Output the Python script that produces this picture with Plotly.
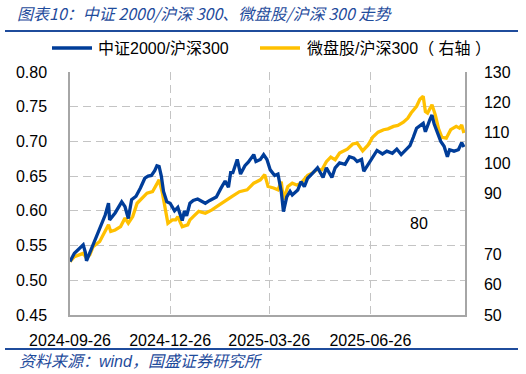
import plotly.graph_objects as go

# ---------------- data ----------------
blue_name = "中证2000/沪深300"
yellow_name = "微盘股/沪深300（ 右轴 ）"

blue_dates = [
    "2024-09-26", "2024-09-30", "2024-10-08", "2024-10-10", "2024-10-11", "2024-10-15", "2024-10-18",
    "2024-10-21", "2024-10-24", "2024-10-28", "2024-10-31", "2024-11-01", "2024-11-06", "2024-11-08",
    "2024-11-12", "2024-11-15", "2024-11-18", "2024-11-21", "2024-11-25", "2024-11-29", "2024-12-03",
    "2024-12-06", "2024-12-09", "2024-12-12", "2024-12-14", "2024-12-16", "2024-12-18", "2024-12-20",
    "2024-12-23", "2024-12-26", "2024-12-30", "2025-01-02", "2025-01-06", "2025-01-08", "2025-01-10",
    "2025-01-13", "2025-01-16", "2025-01-20", "2025-01-22", "2025-01-27", "2025-01-31", "2025-02-06",
    "2025-02-10", "2025-02-14", "2025-02-17", "2025-02-19", "2025-02-21", "2025-02-25", "2025-02-28",
    "2025-03-04", "2025-03-07", "2025-03-12", "2025-03-14", "2025-03-18", "2025-03-21", "2025-03-24",
    "2025-03-27", "2025-03-31", "2025-04-03", "2025-04-06", "2025-04-08", "2025-04-11", "2025-04-14",
    "2025-04-16", "2025-04-21", "2025-04-24", "2025-04-27", "2025-04-30", "2025-05-05", "2025-05-09",
    "2025-05-14", "2025-05-17", "2025-05-22", "2025-05-25", "2025-05-29", "2025-06-03", "2025-06-07",
    "2025-06-11", "2025-06-14", "2025-06-18", "2025-06-20", "2025-06-24", "2025-06-28", "2025-07-02",
    "2025-07-07", "2025-07-11", "2025-07-16", "2025-07-20", "2025-07-24", "2025-07-29", "2025-08-01",
    "2025-08-04", "2025-08-07", "2025-08-13", "2025-08-15", "2025-08-19", "2025-08-21", "2025-08-23",
    "2025-08-26", "2025-08-29", "2025-09-01", "2025-09-04", "2025-09-06", "2025-09-10", "2025-09-14",
    "2025-09-17", "2025-09-19",
]
blue_vals = [
    0.527, 0.539, 0.551, 0.540, 0.528, 0.544, 0.553,
    0.565, 0.580, 0.594, 0.611, 0.587, 0.597, 0.603,
    0.613, 0.606, 0.589, 0.616, 0.621, 0.633, 0.647,
    0.650, 0.651, 0.658, 0.665, 0.664, 0.650, 0.628,
    0.613, 0.611, 0.600, 0.605, 0.586, 0.600, 0.593,
    0.611, 0.615, 0.617, 0.615, 0.611, 0.615, 0.620,
    0.632, 0.643, 0.634, 0.655, 0.655, 0.674, 0.653,
    0.665, 0.670, 0.681, 0.671, 0.674, 0.681, 0.674,
    0.659, 0.651, 0.653, 0.628, 0.599, 0.620, 0.628,
    0.623, 0.630, 0.642, 0.635, 0.647, 0.655, 0.662,
    0.648, 0.662, 0.648, 0.662, 0.669, 0.667, 0.678,
    0.676, 0.671, 0.674, 0.657, 0.667, 0.678, 0.687,
    0.682, 0.686, 0.683, 0.689, 0.681, 0.690, 0.694,
    0.706, 0.719, 0.726, 0.714, 0.731, 0.738, 0.725,
    0.712, 0.700, 0.693, 0.678, 0.688, 0.686, 0.688,
    0.698, 0.692,
]

yellow_dates = [
    "2024-09-26", "2024-09-30", "2024-10-08", "2024-10-11", "2024-10-14", "2024-10-17", "2024-10-23",
    "2024-10-28", "2024-10-31", "2024-11-02", "2024-11-06", "2024-11-11", "2024-11-15", "2024-11-18",
    "2024-11-22", "2024-11-26", "2024-12-01", "2024-12-05", "2024-12-10", "2024-12-14", "2024-12-16",
    "2024-12-19", "2024-12-21", "2024-12-24", "2024-12-28", "2024-12-31", "2025-01-02", "2025-01-06",
    "2025-01-11", "2025-01-13", "2025-01-16", "2025-01-21", "2025-01-27", "2025-02-02", "2025-02-09",
    "2025-02-15", "2025-02-20", "2025-02-27", "2025-03-06", "2025-03-12", "2025-03-18", "2025-03-22",
    "2025-03-25", "2025-03-30", "2025-04-03", "2025-04-06", "2025-04-08", "2025-04-12", "2025-04-16",
    "2025-04-20", "2025-04-24", "2025-04-30", "2025-05-04", "2025-05-09", "2025-05-13", "2025-05-17",
    "2025-05-21", "2025-05-25", "2025-05-29", "2025-06-05", "2025-06-10", "2025-06-14", "2025-06-19",
    "2025-06-24", "2025-06-28", "2025-07-03", "2025-07-08", "2025-07-12", "2025-07-17", "2025-07-21",
    "2025-07-26", "2025-07-30", "2025-08-02", "2025-08-07", "2025-08-10", "2025-08-13", "2025-08-15",
    "2025-08-17", "2025-08-21", "2025-08-24", "2025-08-27", "2025-08-30", "2025-09-03", "2025-09-07",
    "2025-09-12", "2025-09-15", "2025-09-17", "2025-09-19",
]
yellow_vals = [
    67.6, 69.2, 70.3, 68.7, 69.8, 72.5, 74.2,
    78.0, 79.7, 77.5, 78.0, 79.1, 81.9, 80.2,
    82.4, 86.8, 88.5, 90.1, 90.6, 93.4, 94.5,
    90.1, 86.3, 80.2, 81.3, 81.3, 82.4, 79.1,
    79.7, 81.3, 82.4, 84.1, 83.5, 84.6, 86.3,
    87.9, 89.0, 90.6, 91.2, 93.4, 94.5, 96.2,
    92.3, 91.8, 91.2, 93.9, 88.0, 92.3, 93.4,
    92.8, 93.4, 96.0, 96.7, 98.0, 97.8, 100.5,
    102.0, 101.1, 103.3, 104.6, 106.3, 106.6, 104.0,
    106.0, 108.5, 110.2, 111.0, 111.3, 112.1, 112.4,
    113.5, 114.8, 116.5, 118.7, 121.0, 122.0, 117.0,
    116.5, 119.2, 115.9, 111.3, 108.5, 108.2, 111.0,
    112.1, 111.5, 112.6, 109.9,
]

x_tick_vals = ["2024-09-26", "2024-12-26", "2025-03-26", "2025-06-26"]
x_tick_text = ["2024-09-26", "2024-12-26", "2025-03-26", "2025-06-26"]
x_range = ["2024-09-26", "2025-09-20"]
left_ticks = [0.45, 0.50, 0.55, 0.60, 0.65, 0.70, 0.75, 0.80]
left_text = ["0.45", "0.50", "0.55", "0.60", "0.65", "0.70", "0.75", "0.80"]
right_ticks = [50, 60, 70, 90, 100, 110, 120, 130]
right_text = ["50", "60", "70", "90", "100", "110", "120", "130"]
stray_label = "80"

title_text = "图表10：中证 2000/沪深 300、微盘股/沪深 300 走势"
source_text = "资料来源：wind，国盛证券研究所"

# ---------------- style ----------------
BLUE = "#003D99"
GOLD = "#FFC000"
HEAD = "#1F4C9C"
GRID = "#C4C4C4"
AXIS = "#A6A6A6"
FONT = "Liberation Sans, Noto Sans CJK SC, sans-serif"

# plot-area pixel box (used to place page furniture outside the axes)
PL, PR, PT, PB = 70, 465, 72, 315


def px_x(px):
    return (px - PL) / (PR - PL)


def px_y(py):
    return (PB - py) / (PB - PT)


fig = go.Figure()
# yellow on the base (right-hand) axis, blue on the overlaying (left-hand) axis so blue is drawn on top
fig.add_trace(go.Scatter(x=yellow_dates, y=yellow_vals, name=yellow_name, mode="lines",
                         line=dict(color=GOLD, width=3.3), yaxis="y", showlegend=False))
fig.add_trace(go.Scatter(x=blue_dates, y=blue_vals, name=blue_name, mode="lines",
                         line=dict(color=BLUE, width=3.3), yaxis="y2", showlegend=False))

legend_y = px_y(48)
shapes = [
    dict(type="line", xref="paper", yref="paper", x0=px_x(5), x1=px_x(518),
         y0=px_y(31), y1=px_y(31), line=dict(color=HEAD, width=2.2)),
    dict(type="line", xref="paper", yref="paper", x0=px_x(5), x1=px_x(518),
         y0=px_y(349), y1=px_y(349), line=dict(color=HEAD, width=2.2)),
    # legend keys
    dict(type="line", xref="paper", yref="paper", x0=px_x(52), x1=px_x(92),
         y0=legend_y, y1=legend_y, line=dict(color=BLUE, width=3.3)),
    dict(type="line", xref="paper", yref="paper", x0=px_x(260), x1=px_x(300),
         y0=legend_y, y1=legend_y, line=dict(color=GOLD, width=3.3)),
]

annotations = [
    dict(text=blue_name, xref="paper", yref="paper", x=px_x(96), y=legend_y,
         xanchor="left", yanchor="middle", showarrow=False, font=dict(size=16, color="#000000")),
    dict(text=yellow_name, xref="paper", yref="paper", x=px_x(305), y=legend_y,
         xanchor="left", yanchor="middle", showarrow=False, font=dict(size=16, color="#000000")),
    dict(text=stray_label, xref="paper", yref="y", x=px_x(419), y=80,
         xanchor="center", yanchor="middle", showarrow=False, font=dict(size=16, color="#000000")),
    dict(text=source_text, xref="paper", yref="paper", x=px_x(17), y=px_y(361),
         xanchor="left", yanchor="middle", showarrow=False,
         font=dict(family="Liberation Sans, Noto Sans CJK SC", size=16, color=HEAD, style="italic")),
]

fig.update_layout(
    width=526, height=374,
    margin=dict(l=PL, r=526 - PR, t=PT, b=374 - PB),
    paper_bgcolor="white", plot_bgcolor="white",
    font=dict(family=FONT, size=16, color="#000000"),
    showlegend=False,
    title=dict(text=title_text, xref="container", yref="container", x=17 / 526, xanchor="left",
               y=1 - 14 / 374, yanchor="middle",
               font=dict(family="Noto Sans CJK SC, Liberation Sans", size=16, color=HEAD, style="italic")),
    xaxis=dict(type="date", range=x_range, tickmode="array", tickvals=x_tick_vals, ticktext=x_tick_text,
               showgrid=True, gridcolor=GRID, griddash="8px,5px", gridwidth=1.3,
               showline=True, linecolor=AXIS, linewidth=1.5, mirror=False,
               ticks="", ticklabelstandoff=10, zeroline=False),
    # right-hand axis (微盘股/沪深300)
    yaxis=dict(range=[50, 130], side="right", tickmode="array",
               tickvals=right_ticks, ticktext=right_text, showgrid=False,
               showline=True, linecolor=AXIS, linewidth=1.5, ticks="", ticklabelstandoff=14,
               zeroline=False),
    # left-hand axis (中证2000/沪深300)
    yaxis2=dict(range=[0.45, 0.80], side="left", overlaying="y", tickmode="array",
                tickvals=left_ticks, ticktext=left_text,
                showgrid=True, gridcolor=GRID, griddash="8px,5px", gridwidth=1.3,
                showline=True, linecolor=AXIS, linewidth=1.5, ticks="", ticklabelstandoff=18,
                zeroline=False),
    shapes=shapes,
    annotations=annotations,
)

fig.write_html("out.html", config={"displayModeBar": False},
               post_script="document.body.style.margin='0';document.body.style.overflow='hidden';")
